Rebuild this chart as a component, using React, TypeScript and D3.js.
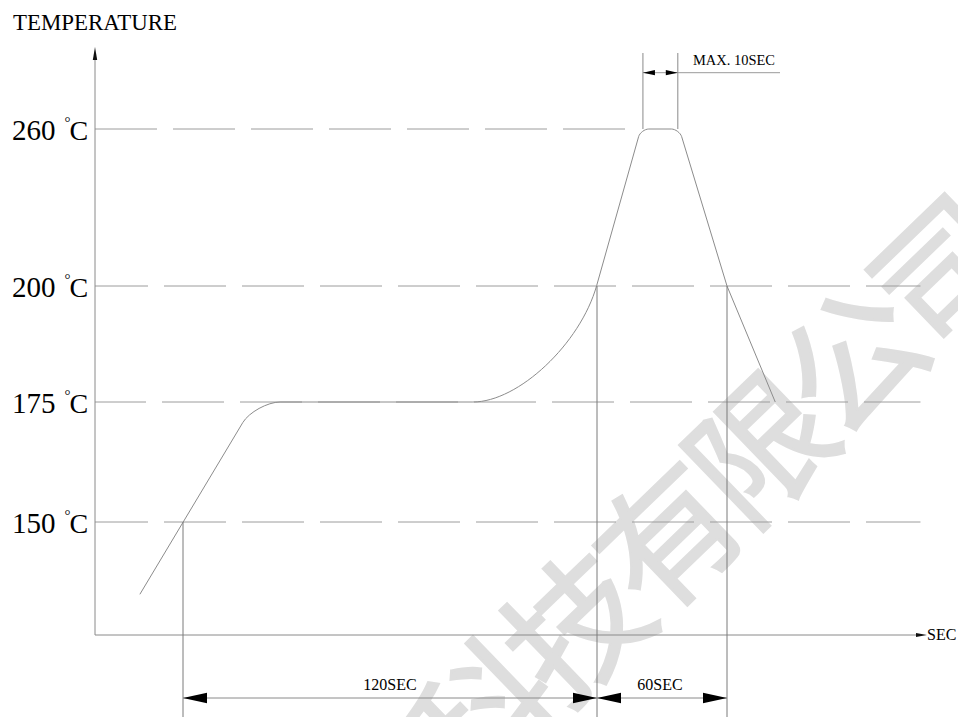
import React from 'react';
import * as d3 from 'd3';

// ---- data ----
const tempTicks = [150, 175, 200, 260];
const tempStops = [125, 150, 175, 200, 260, 291];
const timeStops = [-25.5, 0, 120, 180, 272];

// corner points of the reflow profile (time in s, temperature in °C)
const profileTime = [-12.5, 20.9, 110.4, 140.2, 158, 180, 202.2];
const profileTemp = [134, 175, 175, 260, 260, 200, 175];
// how far (px) each corner is rounded before / after the vertex
const cornerIn = [0, 24, 91, 8, 8, 0, 0];
const cornerOut = [0, 25, 121, 8, 8, 0, 0];

const spanStarts = [0, 120];
const spanEnds = [120, 180];
const spanLabels = ['120SEC', '60SEC'];
const markerTimes = [0, 120, 180];
const markerTemps = [150, 200, 200];
const peakTimes = [141.2, 157.3];
const peakLabel = 'MAX. 10SEC';
const yTitle = 'TEMPERATURE';
const xTitle = 'SEC';
const watermark = '科技有限公司';

const W = 958;
const H = 717;
const serif = "'Liberation Serif', 'Times New Roman', serif";

const x = d3.scaleLinear().domain(timeStops).range([95, 183, 597, 727, 927]);
const y = d3.scaleLinear().domain(tempStops).range([635, 522, 402, 286, 129, 47]);

const gridEnd = 269;
const dashOffsets: Record<number, number> = { 150: 9, 175: 11, 200: 9, 260: 0 };

function profilePath(): string {
  const pts = profileTime.map((t, i) => [x(t), y(profileTemp[i])]);
  const p = d3.path();
  p.moveTo(pts[0][0], pts[0][1]);
  for (let i = 1; i < pts.length; i++) {
    const [vx, vy] = pts[i];
    const cin = cornerIn[i];
    const cout = cornerOut[i];
    if (i === pts.length - 1 || (cin === 0 && cout === 0)) {
      p.lineTo(vx, vy);
      continue;
    }
    const [px, py] = pts[i - 1];
    const [nx, ny] = pts[i + 1];
    const dIn = Math.hypot(vx - px, vy - py);
    const dOut = Math.hypot(nx - vx, ny - vy);
    const ax = vx - ((vx - px) / dIn) * cin;
    const ay = vy - ((vy - py) / dIn) * cin;
    const bx = vx + ((nx - vx) / dOut) * cout;
    const by = vy + ((ny - vy) / dOut) * cout;
    p.lineTo(ax, ay);
    const k = 0.5;
    p.bezierCurveTo(ax + (vx - ax) * k, ay + (vy - ay) * k, bx + (vx - bx) * k, by + (vy - by) * k, bx, by);
  }
  return p.toString();
}

export default function App() {
  const x0 = x(timeStops[0]);
  const yBase = y(tempStops[0]);
  const yTop = y(tempStops[tempStops.length - 1]);
  const xEnd = x(timeStops[timeStops.length - 1]);
  const dimY = 698;
  const ah = 5.3;
  const al = 24;
  const arrow = (tip: number, dir: number, yy: number, len: number, half: number) =>
    `M${tip},${yy} L${tip - dir * len},${yy - half} L${tip - dir * len},${yy + half} Z`;

  const peakArrowY = 72.7;
  const peakLineEnd = 780;

  return (
    <div style={{ position: 'absolute', left: 0, top: 0 }}>
      <svg width={W} height={H} viewBox={`0 0 ${W} ${H}`} style={{ display: 'block', background: '#fff' }}>
        {/* watermark */}
        <text
          x={705}
          y={490}
          transform="rotate(-44 705 490)"
          textAnchor="middle"
          dominantBaseline="central"
          fontFamily="'Noto Sans CJK SC', sans-serif"
          fontSize={138}
          letterSpacing={-10}
          fill="#dedede"
          stroke="#dedede"
          strokeWidth={2.5}
        >
          {watermark}
        </text>

        {/* dashed reference lines */}
        {tempTicks.map((t) => (
          <line
            key={t}
            x1={x0}
            x2={t === 260 ? x(139.3) : x(gridEnd)}
            y1={y(t)}
            y2={y(t)}
            stroke="#9c9c9c"
            strokeWidth={1}
            strokeDasharray="62 16"
            strokeDashoffset={dashOffsets[t]}
          />
        ))}

        {/* axes */}
        <line x1={x0} x2={x0} y1={yBase} y2={yTop + 8} stroke="#8a8a8a" strokeWidth={1} />
        <path d={`M${x0},${yTop} L${x0 - 2.2},${yTop + 13} L${x0 + 2.2},${yTop + 13} Z`} fill="#111" />
        <line x1={x0} x2={xEnd - 8} y1={yBase} y2={yBase} stroke="#8a8a8a" strokeWidth={1} />
        <path d={`M${xEnd},${yBase} L${xEnd - 11},${yBase - 2} L${xEnd - 11},${yBase + 2} Z`} fill="#111" />
        <text x={xEnd} y={yBase + 5} fontFamily={serif} fontSize={16} fill="#000">
          {xTitle}
        </text>
        <text x={13} y={30} fontFamily={serif} fontSize={24} textLength={164} lengthAdjust="spacingAndGlyphs" fill="#000">
          {yTitle}
        </text>

        {/* y labels */}
        {tempTicks.map((t) => (
          <text key={t} x={12} y={y(t) + 10.5} fontFamily={serif} fontSize={29} fill="#000">
            <tspan>{t}</tspan>
            <tspan dx={9} dy={-13} fontSize={15}>°</tspan>
            <tspan dy={13} dx={-1} fontSize={28}>C</tspan>
          </text>
        ))}

        {/* profile curve */}
        <path d={profilePath()} fill="none" stroke="#8c8c8c" strokeWidth={1} />

        {/* vertical markers */}
        {markerTimes.map((t, i) => (
          <line key={t} x1={x(t)} x2={x(t)} y1={y(markerTemps[i])} y2={H} stroke="#7a7a7a" strokeWidth={1} />
        ))}

        {/* bottom dimension line */}
        <line x1={x(spanStarts[0])} x2={x(spanEnds[spanEnds.length - 1])} y1={dimY} y2={dimY} stroke="#8a8a8a" strokeWidth={1} />
        {spanStarts.map((s, i) => (
          <g key={s}>
            <path d={arrow(x(s), -1, dimY, al, ah)} fill="#000" />
            <path d={arrow(x(spanEnds[i]), 1, dimY, al, ah)} fill="#000" />
            <text
              x={(x(s) + x(spanEnds[i])) / 2 + (i === 0 ? 0 : -2)}
              y={690}
              textAnchor="middle"
              fontFamily={serif}
              fontSize={16}
              fill="#000"
            >
              {spanLabels[i]}
            </text>
          </g>
        ))}

        {/* peak dimension */}
        {peakTimes.map((t) => (
          <line key={t} x1={x(t)} x2={x(t)} y1={53} y2={y(260)} stroke="#8a8a8a" strokeWidth={1} />
        ))}
        <line x1={x(peakTimes[0])} x2={peakLineEnd} y1={peakArrowY} y2={peakArrowY} stroke="#9a9a9a" strokeWidth={1} />
        <path d={arrow(x(peakTimes[0]), -1, peakArrowY, 12, 2.6)} fill="#000" />
        <path d={arrow(x(peakTimes[1]), 1, peakArrowY, 12, 2.6)} fill="#000" />
        <text x={693} y={65} fontFamily={serif} fontSize={14} textLength={82} lengthAdjust="spacingAndGlyphs" fill="#000">
          {peakLabel}
        </text>
      </svg>
    </div>
  );
}
